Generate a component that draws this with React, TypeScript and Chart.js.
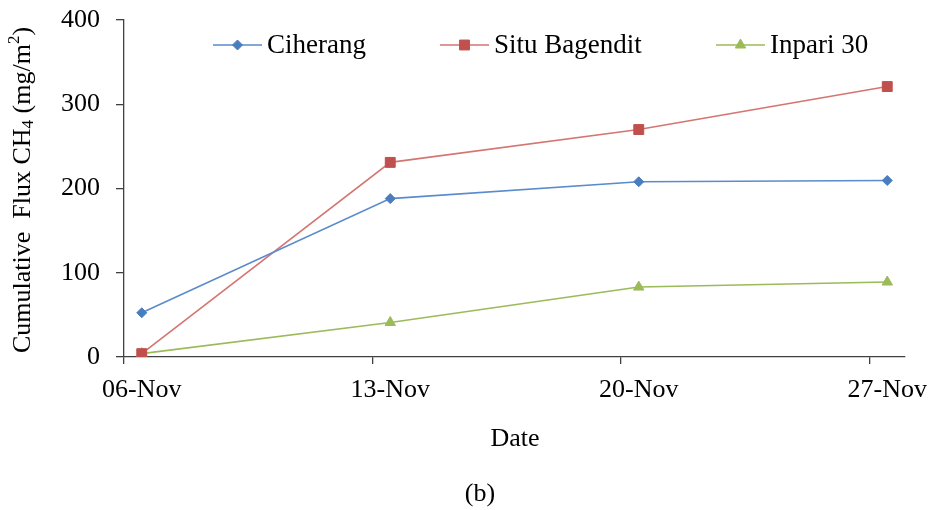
import React, { useEffect, useRef } from "react";
import { Chart, registerables } from "chart.js";
import { drawPoint } from "chart.js/helpers";

Chart.register(...registerables);

// ---- data ----
const sampleDates = ["06-Nov", "13-Nov", "20-Nov", "27-Nov"];
const ciherang = [52.5, 188, 208, 209.5];
const situBagendit = [4, 231, 270, 321];
const inpari30 = [4, 41, 83, 89];
const seriesNames = ["Ciherang", "Situ Bagendit", "Inpari 30"];
const yTicks = [0, 100, 200, 300, 400];

// daily date axis from 06-Nov through 27-Nov
const axisDays: string[] = [];
for (let d = 6; d <= 27; d++) axisDays.push((d < 10 ? "0" : "") + d + "-Nov");

const FONT = "'Liberation Serif', 'Times New Roman', serif";
const AXIS = "#404040";

const blueMarker = "#4A7DBE";
const blueLine = "#5A8BCB";
const redMarker = "#C0504D";
const redLine = "#D57572";
const greenMarker = "#9BBB59";
const greenLine = "#9BBB59";

const overlay = {
  id: "overlay",
  afterDraw(chart: any) {
    const ctx = chart.ctx as CanvasRenderingContext2D;
    ctx.save();
    ctx.fillStyle = "#000";
    // legend
    const legendX = [213, 440, 716];
    const ly = 45;
    chart.data.datasets.forEach((ds: any, i: number) => {
      const x0 = legendX[i];
      ctx.strokeStyle = ds.borderColor;
      ctx.lineWidth = ds.borderWidth;
      ctx.beginPath();
      ctx.moveTo(x0, ly);
      ctx.lineTo(x0 + 49, ly);
      ctx.stroke();
      ctx.fillStyle = ds.pointBackgroundColor;
      ctx.strokeStyle = ds.pointBorderColor;
      ctx.lineWidth = 1;
      drawPoint(ctx, { pointStyle: ds.pointStyle, radius: ds.pointRadius, borderWidth: 1, rotation: 0 } as any, x0 + 24.5, ly);
      ctx.fillStyle = "#000";
      ctx.font = `27px ${FONT}`;
      ctx.textAlign = "left";
      ctx.textBaseline = "middle";
      ctx.fillText(ds.label, x0 + 54, ly + 1);
    });

    // x title and caption
    ctx.font = `26px ${FONT}`;
    ctx.textAlign = "center";
    ctx.textBaseline = "middle";
    ctx.fillText("Date", 515, 439);
    ctx.fillText("(b)", 480, 494);

    // y title with sub/superscripts
    const segs: [string, number][] = [
      ["Cumulative  Flux CH", 0],
      ["4", 1],
      [" (mg/m", 0],
      ["2", -1],
      [")", 0],
    ];
    const big = `26px ${FONT}`;
    const small = `17px ${FONT}`;
    let total = 0;
    segs.forEach(([t, k]) => {
      ctx.font = k === 0 ? big : small;
      total += ctx.measureText(t).width;
    });
    ctx.translate(23, 190);
    ctx.rotate(-Math.PI / 2);
    ctx.textAlign = "left";
    ctx.textBaseline = "middle";
    let x = -total / 2;
    segs.forEach(([t, k]) => {
      ctx.font = k === 0 ? big : small;
      const dy = k === 1 ? 6 : k === -1 ? -8 : 0;
      ctx.fillText(t, x, dy);
      x += ctx.measureText(t).width;
    });
    ctx.restore();
  },
};

export default function App() {
  const ref = useRef<HTMLCanvasElement | null>(null);
  useEffect(() => {
    if (!ref.current) return;
    const mk = (vals: number[]) => vals.map((v, i) => ({ x: sampleDates[i], y: v }));
    const chart = new Chart(ref.current, {
      type: "line",
      data: {
        labels: axisDays,
        datasets: [
          {
            label: seriesNames[0],
            data: mk(ciherang),
            borderColor: blueLine,
            borderWidth: 1.6,
            pointStyle: "rectRot",
            pointRadius: 5,
            pointBackgroundColor: blueMarker,
            pointBorderColor: blueMarker,
            pointBorderWidth: 1,
          },
          {
            label: seriesNames[1],
            data: mk(situBagendit),
            borderColor: redLine,
            borderWidth: 1.6,
            pointStyle: "rect",
            pointRadius: 7,
            pointBackgroundColor: redMarker,
            pointBorderColor: redMarker,
            pointBorderWidth: 1,
          },
          {
            label: seriesNames[2],
            data: mk(inpari30),
            borderColor: greenLine,
            borderWidth: 1.6,
            pointStyle: "triangle",
            pointRadius: 6,
            pointBackgroundColor: greenMarker,
            pointBorderColor: greenMarker,
            pointBorderWidth: 1,
          },
        ],
      },
      options: {
        responsive: false,
        animation: false,
        events: [],
        layout: { padding: { left: 0, top: 20, right: 24, bottom: 0 } },
        plugins: { legend: { display: false }, tooltip: { enabled: false }, title: { display: false } },
        scales: {
          x: {
            type: "category",
            offset: true,
            afterFit: (s: any) => {
              s.height = 153;
              s.paddingLeft = 0;
              s.paddingRight = 0;
            },
            grid: {
              offset: true,
              drawOnChartArea: false,
              drawTicks: true,
              tickLength: 7,
              lineWidth: 1.3,
              color: (c: any) => (c.index % 7 === 0 && c.index < axisDays.length ? AXIS : "rgba(0,0,0,0)"),
            },
            border: { display: true, color: AXIS, width: 1.3 },
            ticks: {
              autoSkip: false,
              maxRotation: 0,
              minRotation: 0,
              padding: 11,
              color: "#000",
              font: { family: FONT, size: 26 },
              callback: (_v: any, i: number) => (sampleDates.includes(axisDays[i]) ? axisDays[i] : ""),
            },
          },
          y: {
            min: yTicks[0],
            max: yTicks[yTicks.length - 1],
            afterFit: (s: any) => {
              s.width = 124;
              s.paddingTop = 0;
              s.paddingBottom = 0;
            },
            afterBuildTicks: (s: any) => {
              s.ticks = yTicks.map((v) => ({ value: v }));
            },
            grid: {
              drawOnChartArea: false,
              drawTicks: true,
              tickLength: 8,
              lineWidth: 1.3,
              color: AXIS,
            },
            border: { display: true, color: AXIS, width: 1.3 },
            ticks: {
              padding: 16,
              color: "#000",
              font: { family: FONT, size: 26 },
            },
          },
        },
      },
      plugins: [overlay],
    });
    return () => chart.destroy();
  }, []);
  return (
    <div style={{ position: "fixed", left: 0, top: 0, width: 929, height: 510, background: "#fff" }}>
      <canvas ref={ref} width={929} height={510} />
    </div>
  );
}
